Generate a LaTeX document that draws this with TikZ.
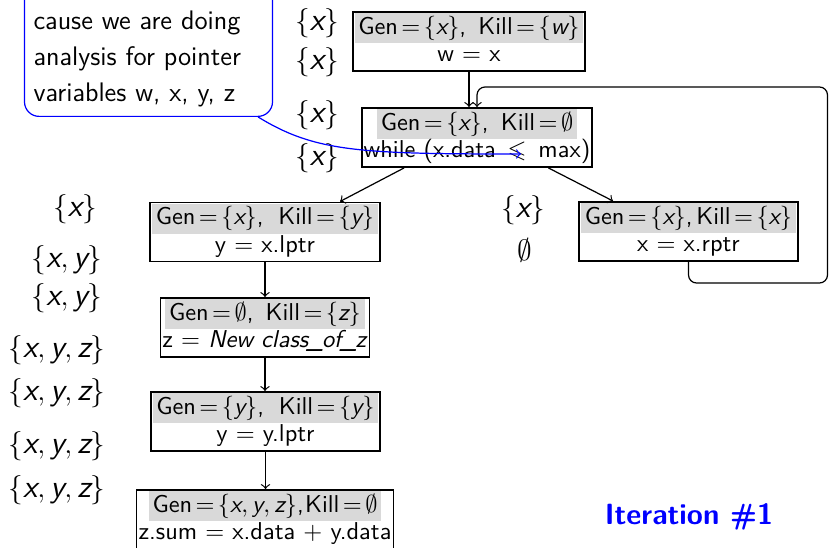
\documentclass[tikz,border=0pt]{standalone}
\usepackage{amssymb}
\usetikzlibrary{calc}
\definecolor{hdrgray}{gray}{0.85}
\newcommand{\mv}[1]{\mbox{\sffamily\itshape #1}}
\newcommand{\eq}{\mskip2.5mu{=}\mskip2.5mu}
\newcommand{\us}{\kern-0.5pt\_\kern-0.5pt}
\newcommand{\hdr}[1]{{\setlength{\fboxsep}{0pt}\colorbox{hdrgray}{\rule[-3.7pt]{0pt}{12.3pt}\hspace{1.5pt}#1\hspace{1.5pt}}}}
\newcommand{\cellbox}[2]{\renewcommand{\arraystretch}{0.9}\begin{tabular}{@{}c@{}}\hdr{#1}\\#2\end{tabular}}
\newcommand{\jline}[1]{\makebox[\linewidth][s]{#1}}
\tikzset{
  cell/.style={draw, line width=0.7pt, fill=white, inner xsep=0.8pt, inner ysep=0.6pt, font=\sffamily},
  lab/.style={font=\sffamily\fontsize{13}{15}\selectfont, inner sep=0pt},
  flow/.style={->, line width=0.5pt},
  callout/.style={draw=blue, line width=0.5pt, rounded corners=6pt, text width=94.3pt, align=left,
     inner xsep=3.7pt, inner ysep=3.8pt, font=\sffamily\fontsize{11}{14.8}\selectfont},
}
\begin{document}
\begin{tikzpicture}[x=0.41pt,y=-0.41pt]
\useasboundingbox (0,0) rectangle (829,548);
\clip (0,0) rectangle (829,548);

% boxes
\node[cell] (b1) at (469,41.5) {\cellbox{Gen$\eq\{\mv{x}\}$,\hspace{5pt}Kill$\eq\{\mv{w}\}$}{w $=$ x}};
\node[cell] (b2) at (477,137.5) {\cellbox{Gen$\eq\{\mv{x}\}$,\hspace{5pt}Kill$\eq\emptyset$}{while (x.data\hspace{1.5pt} $\leqslant$\hspace{1.5pt} max)}};
\node[cell] (b3) at (265,232) {\cellbox{Gen$\eq\{\mv{x}\}$,\hspace{6pt}Kill$\eq\{\mv{y}\}$}{y $=$ x.lptr}};
\node[cell] (b4) at (688.5,231.5) {\cellbox{Gen$\eq\{\mv{x}\}$,\hspace{1.5pt}Kill$\eq\{\mv{x}\}$}{x $=$ x.rptr}};
\node[cell] (b5) at (265,327.5) {\cellbox{Gen$\eq\emptyset$,\hspace{5pt}Kill$\eq\{\mv{z}\}$}{z $=$ \textit{New class\us of\us z}}};
\node[cell] (b6) at (265.5,421.5) {\cellbox{Gen$\eq\{\mv{y}\}$,\hspace{6pt}Kill$\eq\{\mv{y}\}$}{y $=$ y.lptr}};
\node[cell] (b7) at (265,519.5) {\cellbox{Gen$\eq\{\mv{x}, \mv{y}, \mv{z}\}$,\hspace{0.5pt}Kill$\eq\emptyset$}{z.sum $=$ x.data $+$ y.data}};

% labels
\node[lab] (l1) at (317,23) {$\{\mv{x}\}$};
\node[lab] (l2) at (317,62) {$\{\mv{x}\}$};
\node[lab] (l3) at (317,115) {$\{\mv{x}\}$};
\node[lab] (l4) at (317,158) {$\{\mv{x}\}$};
\node[lab] (l5) at (75,209) {$\{\mv{x}\}$};
\node[lab] (l6) at (67,260) {$\{\mv{x}, \mv{y}\}$};
\node[lab] (l7) at (67,298) {$\{\mv{x}, \mv{y}\}$};
\node[lab] (l8) at (57,350) {$\{\mv{x}, \mv{y}, \mv{z}\}$};
\node[lab] (l9) at (57,393) {$\{\mv{x}, \mv{y}, \mv{z}\}$};
\node[lab] (l10) at (57,446) {$\{\mv{x}, \mv{y}, \mv{z}\}$};
\node[lab] (l11) at (57,490) {$\{\mv{x}, \mv{y}, \mv{z}\}$};
\node[lab] (l12) at (523,210) {$\{\mv{x}\}$};
\node[lab] (l13) at (525,250) {$\emptyset$};

% connectors
\draw[flow] (b1.south) -- (b1.south |- b2.north);
\coordinate (lr) at (827.5,283);
\coordinate (ur) at (827.5,87);
\draw[flow, rounded corners=3.3pt] (b4.south) -- (b4.south |- lr) -- (lr) -- (ur) -- (b2.north |- ur) -- (b2.north);
\draw[flow] ($(b2.south)+(-73,0)$) -- ($(b3.north)+(75,0)$);
\draw[flow] ($(b2.south)+(71.5,0)$) -- ($(b4.north)+(-75.5,0)$);
\draw[flow] (b3.south) -- (b3.south |- b5.north);
\draw[flow] (b5.south) -- (b5.south |- b6.north);
\draw[flow] (b6.south) -- (b6.south |- b7.north);

% callout
\node[callout, anchor=south] (call) at (148.5,117) {\strut\\\jline{cause we are doing}\\\jline{analysis for pointer}\\\jline{variables w, x, y, z}};
\coordinate (cs) at ($(call.south east)+(-15,0)$);
\coordinate (ce) at (521,154);
\draw[->, blue, line width=0.5pt] (cs) .. controls (315,152) and (360,154) .. (ce);

% iteration
\node[font=\sffamily\bfseries\large, text=blue] (it) at (689,517) {Iteration \#1};
\end{tikzpicture}
\end{document}
